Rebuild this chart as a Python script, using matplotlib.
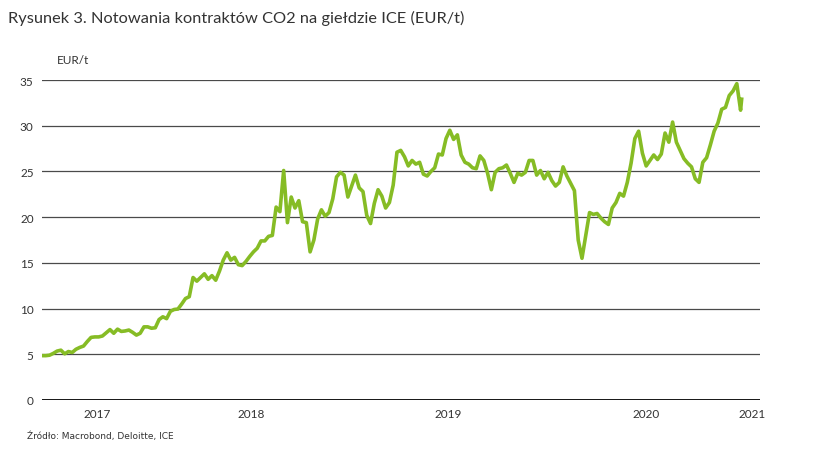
import numpy as np
import pandas as pd
import matplotlib
matplotlib.use("Agg")
import matplotlib.pyplot as plt

TITLE = "Rysunek 3. Notowania kontraktów CO2 na giełdzie ICE (EUR/t)"
UNIT = "EUR/t"
SOURCE = "Źródło: Macrobond, Deloitte, ICE"

START = "2017-06-09"
END = "2021-01-30"

# weekly ICE EUA settlement, EUR/t
PRICES = [
    4.85, 4.85, 4.9, 5.1, 5.35, 5.45, 5.05, 5.3, 5.2, 5.55,
    5.75, 5.9, 6.4, 6.85, 6.9, 6.9, 7.0, 7.35, 7.7, 7.3,
    7.75, 7.5, 7.55, 7.65, 7.4, 7.1, 7.3, 8.0, 8.0, 7.85,
    7.9, 8.8, 9.1, 8.9, 9.7, 9.9, 9.95, 10.5, 11.1, 11.3,
    13.4, 13.0, 13.4, 13.8, 13.2, 13.6, 13.1, 14.1, 15.3, 16.1,
    15.3, 15.6, 14.8, 14.7, 15.15, 15.7, 16.2, 16.6, 17.4, 17.4,
    17.9, 18.0, 21.1, 20.6, 25.1, 19.4, 22.2, 21.0, 21.8, 19.5,
    19.4, 16.2, 17.5, 19.8, 20.8, 20.1, 20.5, 22.0, 24.4, 24.9,
    24.6, 22.2, 23.4, 24.6, 23.2, 22.8, 20.2, 19.3, 21.5, 23.0,
    22.3, 21.0, 21.6, 23.5, 27.1, 27.3, 26.6, 25.6, 26.2, 25.8,
    26.0, 24.7, 24.5, 25.0, 25.4, 26.9, 26.8, 28.6, 29.5, 28.5,
    29.0, 26.8, 26.0, 25.8, 25.4, 25.3, 26.7, 26.2, 24.8, 23.0,
    24.9, 25.3, 25.4, 25.7, 24.8, 23.8, 24.8, 24.6, 24.9, 26.2,
    26.2, 24.6, 25.1, 24.2, 24.9, 24.0, 23.4, 23.8, 25.5, 24.5,
    23.7, 22.9, 17.5, 15.5, 18.0, 20.5, 20.3, 20.4, 19.9, 19.5,
    19.2, 21.0, 21.6, 22.6, 22.3, 23.8, 25.9, 28.6, 29.4, 27.0,
    25.6, 26.2, 26.8, 26.3, 26.9, 29.2, 28.2, 30.4, 28.2, 27.3,
    26.4, 25.9, 25.5, 24.2, 23.8, 26.0, 26.5, 27.9, 29.4, 30.3,
    31.8, 32.0, 33.3, 33.8, 34.6, 31.7,
]
LAST_DATE = "2020-12-27"
LAST_PRICE = 32.9

Y_TICKS = [0, 5, 10, 15, 20, 25, 30, 35]
YEARS = [2017, 2018, 2019, 2020, 2021]

GREEN = "#86BC25"
TEXT = "#333333"

plt.rcParams["font.family"] = ["Lato", "DejaVu Sans"]

dates = list(pd.date_range(START, periods=len(PRICES), freq="7D"))
dates.append(pd.Timestamp(LAST_DATE))
prices = PRICES + [LAST_PRICE]
x_min = pd.Timestamp(START)
x_max = pd.Timestamp(END)

fig = plt.figure(figsize=(8.25, 4.52), dpi=100)
ax = fig.add_axes([42 / 825, 51 / 452, 718 / 825, 320 / 452])

for v in Y_TICKS[1:]:
    ax.axhline(v, color="#4a4a4a", linewidth=0.9, zorder=1)
ax.axhline(0, color="black", linewidth=2.0, zorder=2)

ax.plot(dates, prices, color=GREEN, linewidth=2.6, zorder=3,
        solid_joinstyle="round")

ax.set_xlim(x_min, x_max)
ax.set_ylim(0, 35)

# year labels centred on the visible part of each year
centres = []
for yr in YEARS:
    a = max(pd.Timestamp(f"{yr}-01-01"), x_min)
    b = min(pd.Timestamp(f"{yr + 1}-01-01"), x_max)
    centres.append(a + (b - a) / 2)
ax.set_xticks(centres)
ax.set_xticklabels([str(y) for y in YEARS])
ax.set_yticks(Y_TICKS)
ax.tick_params(axis="both", length=0, labelsize=8.5, colors=TEXT)
ax.tick_params(axis="x", pad=6)
ax.tick_params(axis="y", pad=6)

for s in ax.spines.values():
    s.set_visible(False)

fig.text(8 / 825, 1 - 18 / 452, TITLE, fontsize=11.8, color=TEXT,
         va="center", ha="left")
fig.text(57 / 825, 1 - 60 / 452, UNIT, fontsize=8.5, color=TEXT,
         va="center", ha="left")
fig.text(27 / 825, 1 - 436 / 452, SOURCE, fontsize=6.5, color=TEXT,
         va="center", ha="left",
         family=["Liberation Sans Narrow", "DejaVu Sans"])

fig.savefig("out.png", dpi=100)
